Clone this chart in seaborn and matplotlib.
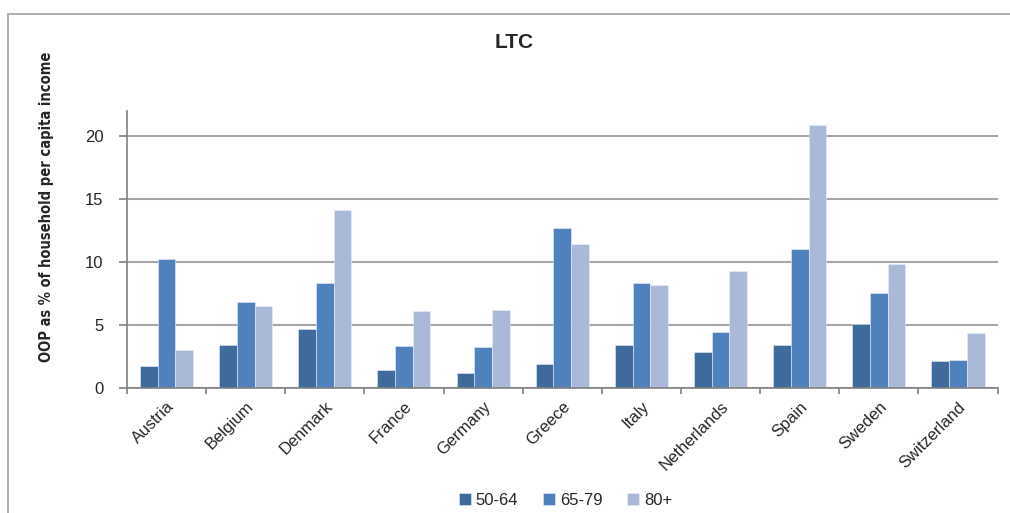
import numpy as np
import pandas as pd
import matplotlib.pyplot as plt
import matplotlib.patches as mpatches
import seaborn as sns

# ========== DATA ==========
countries = ["Austria", "Belgium", "Denmark", "France", "Germany", "Greece",
             "Italy", "Netherlands", "Spain", "Sweden", "Switzerland"]
age_groups = ["50-64", "65-79", "80+"]
v_50_64 = [1.78, 3.39, 4.65, 1.42, 1.21, 1.92, 3.39, 2.89, 3.39, 5.12, 2.16]
v_65_79 = [10.25, 6.81, 8.33, 3.31, 3.23, 12.69, 8.30, 4.42, 11.01, 7.54, 2.23]
v_80 = [3.02, 6.54, 14.17, 6.15, 6.23, 11.43, 8.20, 9.28, 20.92, 9.86, 4.34]
colors = ["#3F6A9C", "#4F81BD", "#AAB9D8"]

df = pd.DataFrame({
    "Country": countries * 3,
    "Age": [a for a in age_groups for _ in countries],
    "Value": v_50_64 + v_65_79 + v_80,
})

# ========== STYLE ==========
sns.set_style("white")
plt.rcParams["font.family"] = ["Liberation Sans", "DejaVu Sans"]

fig = plt.figure(figsize=(10.1, 5.13), dpi=100)
ax = fig.add_axes([0.1257, 0.2437, 0.862, 0.540])

sns.barplot(data=df, x="Country", y="Value", hue="Age", palette=colors,
            width=0.67, gap=0, saturation=1, ax=ax, legend=True,
            edgecolor="#E8EEF7", linewidth=0.4)

ax.set_ylim(0, 22)
ax.set_xlim(-0.5, len(countries) - 0.5)
ax.set_yticks([0, 5, 10, 15, 20])
ax.tick_params(axis="y", labelsize=12, length=6, width=1.2, pad=11,
               color="#808080", direction="out", left=True)
ax.set_xticks(np.arange(len(countries)))
ax.set_xticklabels(countries, rotation=45, ha="right", rotation_mode="anchor", fontsize=12)
ax.set_xticks(np.arange(len(countries) + 1) - 0.5, minor=True)
ax.tick_params(axis="x", which="major", length=0, pad=8)
ax.tick_params(axis="x", which="minor", length=4, width=1.2, color="#808080",
               direction="out", bottom=True)
ax.yaxis.grid(True, color="#A6A6A6", linewidth=1.5)
ax.set_axisbelow(True)

for s in ["top", "right"]:
    ax.spines[s].set_visible(False)
for s in ["left", "bottom"]:
    ax.spines[s].set_color("#808080")
    ax.spines[s].set_linewidth(1.2)

ax.set_xlabel("")
ax.set_ylabel("OOP as % of household per capita income", fontsize=10.5,
              fontweight="bold", family="DejaVu Sans", fontstretch="condensed")
ax.yaxis.set_label_coords(-0.084, 0.653)
fig.text(0.509, 0.918, "LTC", ha="center", va="center", fontsize=15, fontweight="bold")

handles, labels = ax.get_legend_handles_labels()
ax.legend(handles, labels, loc="center", bbox_to_anchor=(0.56, 0.025),
          bbox_transform=fig.transFigure, ncol=3, frameon=False, fontsize=12,
          handlelength=0.7, handleheight=0.7, handletextpad=0.3, columnspacing=1.5)

# outer chart frame
fig.patches.append(mpatches.Rectangle((0.008, -0.05), 1.1, 1.022, transform=fig.transFigure,
                                      fill=False, edgecolor="#A0A0A0", linewidth=1.2))

fig.savefig("out.png", dpi=100)
